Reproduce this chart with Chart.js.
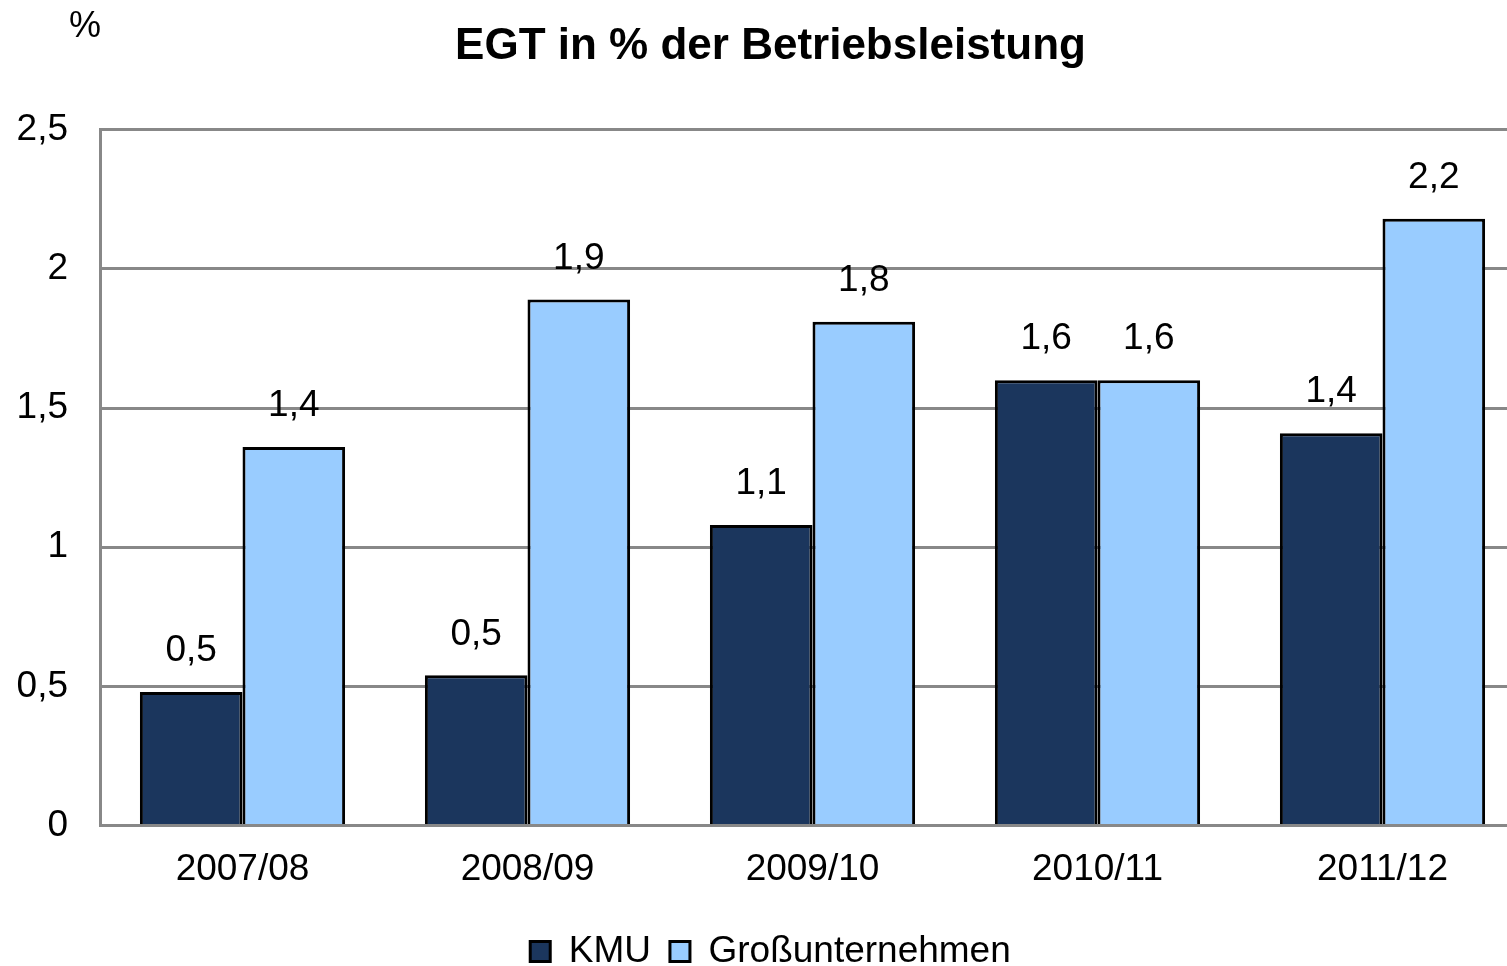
<!DOCTYPE html>
<html>
<head>
<meta charset="utf-8">
<script src="https://cdn.jsdelivr.net/npm/chart.js@4.4.0/dist/chart.umd.min.js"></script>
<style>
  html, body { margin: 0; padding: 0; background: #fff; overflow: hidden; }
  #wrap { width: 1560px; height: 980px; }
</style>
</head>
<body>
<div id="wrap"><canvas id="egtChart" width="1560" height="980"></canvas></div>
<script>
var categories = ['2007/08', '2008/09', '2009/10', '2010/11', '2011/12'];
var kmuValues = [0.48, 0.54, 1.08, 1.6, 1.41];
var grossValues = [1.36, 1.89, 1.81, 1.6, 2.18];
var yTicks = [0, 0.5, 1, 1.5, 2, 2.5];

function fmt(v, digits) {
    var s = digits === undefined ? String(v) : v.toFixed(digits);
    return s.replace('.', ',');
}

var FONT = "'Liberation Sans', Arial, sans-serif";

// labels above the bars
var barLabels = {
    id: 'barLabels',
    afterDatasetsDraw: function(chart) {
        var ctx = chart.ctx;
        ctx.save();
        ctx.font = '37px ' + FONT;
        ctx.fillStyle = '#000';
        ctx.textAlign = 'center';
        ctx.textBaseline = 'middle';
        chart.data.datasets.forEach(function(ds, i) {
            chart.getDatasetMeta(i).data.forEach(function(bar, j) {
                ctx.fillText(fmt(ds.data[j], 1), bar.x, bar.y - 41);
            });
        });
        ctx.restore();
    }
};

// "%" unit over the y axis
var unitLabel = {
    id: 'unitLabel',
    afterDraw: function(chart) {
        var ctx = chart.ctx;
        ctx.save();
        ctx.font = '36px ' + FONT;
        ctx.fillStyle = '#000';
        ctx.textAlign = 'center';
        ctx.textBaseline = 'middle';
        ctx.fillText('%', chart.chartArea.left - 15, 27);
        ctx.restore();
    }
};

var ctx = document.getElementById('egtChart').getContext('2d');
var egtChart = new Chart(ctx, {
    type: 'bar',
    data: {
        labels: categories,
        datasets: [{
            label: 'KMU',
            data: kmuValues,
            backgroundColor: '#1B365D',
            borderColor: '#000',
            borderWidth: 3,
            borderSkipped: 'bottom'
        }, {
            label: 'Großunternehmen',
            data: grossValues,
            backgroundColor: '#99CCFF',
            borderColor: '#000',
            borderWidth: 3,
            borderSkipped: 'bottom'
        }]
    },
    options: {
        responsive: false,
        animation: false,
        layout: { padding: { left: 16, right: 35, top: 0, bottom: 0 } },
        datasets: { bar: { categoryPercentage: 0.72, barPercentage: 1.0 } },
        plugins: {
            title: {
                display: true,
                text: 'EGT in % der Betriebsleistung',
                color: '#000',
                font: { family: FONT, size: 44, weight: 'bold' },
                padding: { top: 20, bottom: 57 }
            },
            legend: {
                position: 'bottom',
                labels: {
                    color: '#000',
                    font: { family: FONT, size: 37 },
                    boxWidth: 20,
                    boxHeight: 20,
                    padding: 19,
                    useBorderRadius: false
                }
            },
            tooltip: { enabled: false }
        },
        scales: {
            x: {
                grid: { display: false, drawTicks: false },
                border: { display: true, color: '#888', width: 3 },
                ticks: {
                    color: '#000',
                    font: { family: FONT, size: 37 },
                    padding: 22
                }
            },
            y: {
                min: 0,
                max: 2.5,
                afterBuildTicks: function(axis) {
                    axis.ticks = yTicks.map(function(v) { return { value: v }; });
                },
                afterFit: function(axis) {
                    axis.width = 84;
                },
                grid: { color: '#888', lineWidth: 3, drawTicks: false },
                border: { display: true, color: '#888', width: 3 },
                ticks: {
                    color: '#000',
                    font: { family: FONT, size: 37 },
                    padding: 32,
                    callback: function(v) { return fmt(v); }
                }
            }
        }
    },
    plugins: [barLabels, unitLabel]
});
</script>
</body>
</html>
